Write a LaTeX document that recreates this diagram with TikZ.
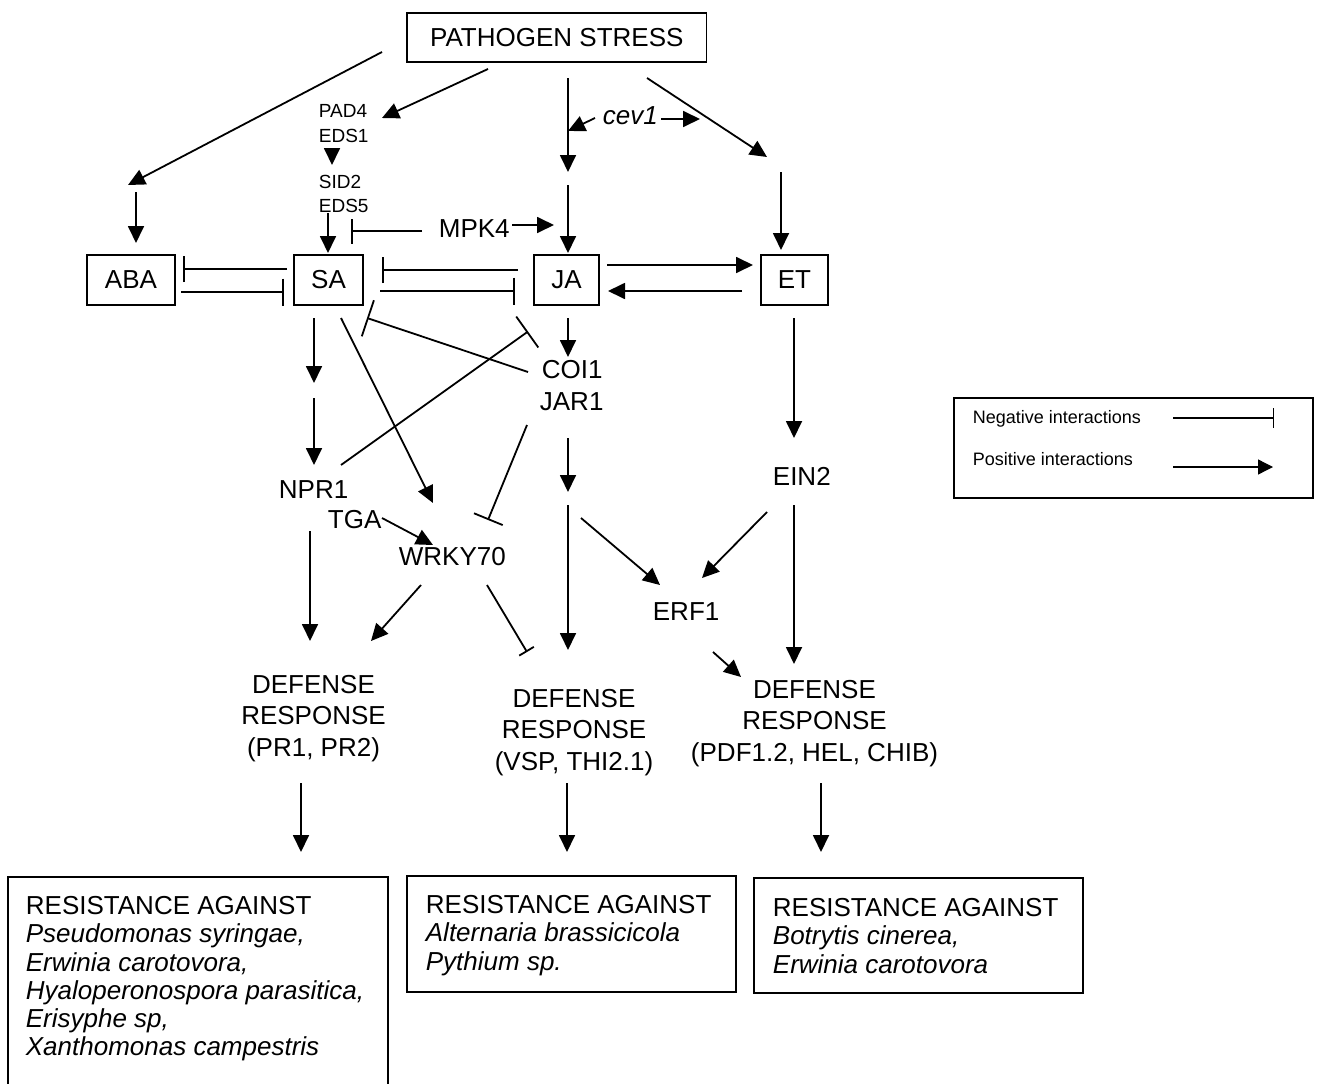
\documentclass[tikz,border=0pt]{standalone}
\usepackage{fontspec}
\setmainfont{Liberation Sans}
\usetikzlibrary{arrows.meta}
\begin{document}
\begin{tikzpicture}[x=1pt,y=-1pt, line width=1.8pt,
  posarr/.style={-{Triangle[length=17pt,width=16pt]}},
  negarr/.style={-{Bar[width=#1]}}, negarr/.default=27pt,
  lbl/.style={inner sep=0pt, font=\fontsize{26pt}{31.5pt}\selectfont},
  sml/.style={inner sep=0pt, font=\fontsize{19pt}{25pt}\selectfont},
  leg/.style={inner sep=0pt, font=\fontsize{18pt}{22pt}\selectfont},
  box/.style={lbl, draw},
  multi/.style={lbl, align=center, anchor=north},
  res/.style={inner sep=0pt, align=left, anchor=north west, font=\fontsize{26pt}{28.3pt}\selectfont},
]
\useasboundingbox (0,0) rectangle (1320,1084);

% ---------- boxes ----------
\node[box, minimum width=299.5pt, minimum height=49.5pt] (ps) at (556.8,37.5) {PATHOGEN STRESS};
\node[box, minimum width=88pt, minimum height=50pt] (aba) at (131,280) {ABA};
\node[box, minimum width=69pt, minimum height=50pt] (sa) at (328.5,280) {SA};
\node[box, minimum width=65pt, minimum height=50pt] (ja) at (566.5,280) {JA};
\node[box, minimum width=67pt, minimum height=50pt] (et) at (794.5,280) {ET};

% ---------- labels ----------
\node[sml, anchor=base west] (pad4) at (318,117) {PAD4};
\node[sml, anchor=base west] (eds1) at (318,142) {EDS1};
\node[sml, anchor=base west] (sid2) at (318,188) {SID2};
\node[sml, anchor=base west] (eds5) at (318,212) {EDS5};
\node[lbl, anchor=base west, font=\fontsize{26pt}{31.5pt}\selectfont\itshape] (cev1) at (602,124) {cev1};
\node[lbl, anchor=base west] (mpk4) at (438,237) {MPK4};
\node[lbl, anchor=base west] (coi1) at (541,378) {COI1};
\node[lbl, anchor=base west] (jar1) at (539,410) {JAR1};
\node[lbl, anchor=base west] (npr1) at (278,498) {NPR1};
\node[lbl, anchor=base west] (tga) at (327,528) {TGA};
\node[lbl, anchor=base west] (wrky70) at (398,565) {WRKY70};
\node[lbl, anchor=base west] (ein2) at (772,485) {EIN2};
\node[lbl, anchor=base west] (erf1) at (652,620) {ERF1};

\node[multi] (d1) at (313.5,674.4) {DEFENSE\\RESPONSE\\(PR1, PR2)};
\node[multi] (d2) at (574,688.4) {DEFENSE\\RESPONSE\\(VSP, THI2.1)};
\node[multi] (d3) at (814.5,679.4) {DEFENSE\\RESPONSE\\(PDF1.2, HEL, CHIB)};

% ---------- resistance boxes ----------
\node[draw, minimum width=380pt, minimum height=220pt, inner sep=0pt] (r1) at (198,987) {};
\node[draw, minimum width=329pt, minimum height=116pt, inner sep=0pt] (r2) at (571.5,934) {};
\node[draw, minimum width=329pt, minimum height=115pt, inner sep=0pt] (r3) at (918.5,935.5) {};
\node[res] (r1t) at (25,895.4) {RESISTANCE AGAINST\\\textit{Pseudomonas syringae,}\\\textit{Erwinia carotovora,}\\\textit{Hyaloperonospora parasitica,}\\\textit{Erisyphe sp,}\\\textit{Xanthomonas campestris}};
\node[res] (r2t) at (425,894.4) {RESISTANCE AGAINST\\\textit{Alternaria brassicicola}\\\textit{Pythium sp.}};
\node[res] (r3t) at (772,897.4) {RESISTANCE AGAINST\\\textit{Botrytis cinerea,}\\\textit{Erwinia carotovora}};

% ---------- legend ----------
\node[draw, line width=1.3pt, minimum width=359pt, minimum height=100pt, inner sep=0pt] (legbox) at (1133.5,448) {};
\node[leg, anchor=base west] (legneg) at (972,423) {Negative interactions};
\node[leg, anchor=base west] (legpos) at (972,465) {Positive interactions};
\coordinate (ln1) at (1173,418); \coordinate (ln2) at (1274,418);
\coordinate (lp1) at (1173,467); \coordinate (lp2) at (1273,467);
\draw[line width=1.3pt, -{Bar[width=20pt]}] (ln1) -- (ln2);
\draw[line width=1.3pt, -{Triangle[length=15pt,width=15pt]}] (lp1) -- (lp2);

% ---------- connector end points ----------
\coordinate (psA) at (382,52);   \coordinate (abaIn) at (128,185);
\coordinate (abaT) at (136,192); \coordinate (abaB) at (136,243);
\coordinate (psP) at (488,69);   \coordinate (padIn) at (382,118);
\coordinate (edsT) at (332,148); \coordinate (edsB) at (332,165);
\coordinate (e5T) at (328,213);  \coordinate (saN) at (328,253);
\coordinate (mpkL) at (422,231); \coordinate (mpkBar) at (351,231);
\coordinate (mpkR) at (512,225); \coordinate (mpkTip) at (554,225);
\coordinate (psJ) at (568,78);   \coordinate (jMid) at (568,172);
\coordinate (cevL) at (595,118); \coordinate (cevLT) at (568,131);
\coordinate (cevR) at (661,119); \coordinate (cevRT) at (700,119);
\coordinate (jMid2) at (568,185); \coordinate (jaN) at (568,253);
\coordinate (psE) at (647,78);   \coordinate (etIn) at (767,157);
\coordinate (etT) at (781,172);  \coordinate (etN) at (781,250);
\coordinate (sa1) at (287,269);  \coordinate (aba1) at (183,269);
\coordinate (aba2) at (181,292); \coordinate (sa2) at (284,292);
\coordinate (ja3) at (518,270);  \coordinate (sa3) at (382,270);
\coordinate (sa4) at (380,291);  \coordinate (ja4) at (515,291);
\coordinate (ja5) at (607,265);  \coordinate (et5) at (753,265);
\coordinate (et6) at (742,291);  \coordinate (ja6) at (608,291);
\coordinate (saS1) at (314,318); \coordinate (saS1b) at (314,383);
\coordinate (saS2) at (314,398); \coordinate (nprN) at (314,465);
\coordinate (saW) at (341,318);  \coordinate (wrkN) at (433,503);
\coordinate (coiW) at (528,372); \coordinate (saSE) at (367,318);
\coordinate (nprNE) at (341,465); \coordinate (jaSW) at (528,331.5);
\coordinate (jaS) at (568,318);  \coordinate (coiN) at (568,357);
\coordinate (jarSW) at (527,425); \coordinate (wrkNE) at (488,520);
\coordinate (jarS) at (568,438); \coordinate (jMid3) at (568,492);
\coordinate (jMid4) at (568,505); \coordinate (d2N) at (568,650);
\coordinate (brE) at (581,518);  \coordinate (erfNW) at (660,585);
\coordinate (tgaE) at (382,518); \coordinate (wrkNW) at (433,545);
\coordinate (wrkSW) at (421,585); \coordinate (d1NE) at (371,641);
\coordinate (wrkSE) at (487,585); \coordinate (d2NW) at (527,652);
\coordinate (nprS) at (310,531); \coordinate (d1N) at (310,641);
\coordinate (etS) at (794,318);  \coordinate (einN) at (794,438);
\coordinate (einSW) at (767,512); \coordinate (erfNE) at (702,578);
\coordinate (einS) at (794,505); \coordinate (d3N) at (794,664);
\coordinate (erfSE) at (713,652); \coordinate (d3NW) at (741,677);
\coordinate (d1S) at (301,783);  \coordinate (r1N) at (301,852);
\coordinate (d2S) at (567,783);  \coordinate (r2N) at (567,852);
\coordinate (d3S) at (821,783);  \coordinate (r3N) at (821,852);

% ---------- positive interactions ----------
\draw[posarr] (psA) -- (abaIn);
\draw[posarr] (abaT) -- (abaB);
\draw[posarr] (psP) -- (padIn);
\draw[posarr] (edsT) -- (edsB);
\draw[posarr] (e5T) -- (saN);
\draw[posarr] (mpkR) -- (mpkTip);
\draw[posarr] (psJ) -- (jMid);
\draw[posarr] (cevL) -- (cevLT);
\draw[posarr] (cevR) -- (cevRT);
\draw[posarr] (jMid2) -- (jaN);
\draw[posarr] (psE) -- (etIn);
\draw[posarr] (etT) -- (etN);
\draw[posarr] (ja5) -- (et5);
\draw[posarr] (et6) -- (ja6);
\draw[posarr] (saS1) -- (saS1b);
\draw[posarr] (saS2) -- (nprN);
\draw[posarr] (saW) -- (wrkN);
\draw[posarr] (jaS) -- (coiN);
\draw[posarr] (jarS) -- (jMid3);
\draw[posarr] (jMid4) -- (d2N);
\draw[posarr] (brE) -- (erfNW);
\draw[posarr] (tgaE) -- (wrkNW);
\draw[posarr] (wrkSW) -- (d1NE);
\draw[posarr] (nprS) -- (d1N);
\draw[posarr] (etS) -- (einN);
\draw[posarr] (einSW) -- (erfNE);
\draw[posarr] (einS) -- (d3N);
\draw[posarr] (erfSE) -- (d3NW);
\draw[posarr] (d1S) -- (r1N);
\draw[posarr] (d2S) -- (r2N);
\draw[posarr] (d3S) -- (r3N);

% ---------- negative interactions ----------
\draw[negarr=25pt] (mpkL) -- (mpkBar);
\draw[negarr=26pt] (sa1) -- (aba1);
\draw[negarr=27pt] (aba2) -- (sa2);
\draw[negarr=26pt] (ja3) -- (sa3);
\draw[negarr=27pt] (sa4) -- (ja4);
\draw[negarr=38pt] (coiW) -- (saSE);
\draw[negarr=38pt] (nprNE) -- (jaSW);
\draw[negarr=31pt] (jarSW) -- (wrkNE);
\draw[negarr=17pt] (wrkSE) -- (d2NW);
\end{tikzpicture}
\end{document}
